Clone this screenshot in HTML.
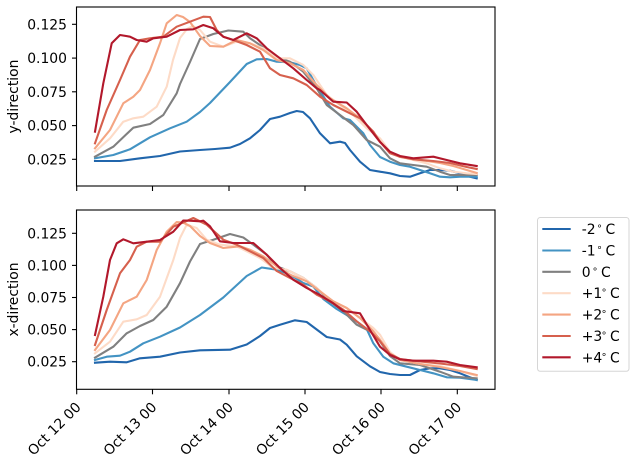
<!DOCTYPE html>
<html><head><meta charset="utf-8"><style>
html,body{margin:0;padding:0;background:#fff;}
svg{display:block;}
text{font-family:"DejaVu Sans","Liberation Sans",sans-serif;font-size:13.9px;fill:#000;}
.s{fill:none;stroke-width:2.1;stroke-linejoin:round;stroke-linecap:square;}
</style></head><body>
<svg width="637" height="461" viewBox="0 0 637 461" xmlns="http://www.w3.org/2000/svg">
<rect width="637" height="461" fill="#fff"/>
<defs>
<clipPath id="c1"><rect x="76.5" y="7" width="418.5" height="179"/></clipPath>
<clipPath id="c2"><rect x="76.5" y="210" width="418.5" height="179.3"/></clipPath>
</defs>

<!-- TOP PLOT -->
<g clip-path="url(#c1)">
<polyline class="s" stroke="#2166ac" points="95,161 120,161 140,158.3 160,156 180,151.5 200,150 215,149 230,147.7 240,144 250,138.3 260,130 270,119 280,116.7 290,113 296.7,111 303,112 310,118.3 320,133.3 330,143.3 340,141.7 345,143 350,150 360,161.7 370,170 380,171.7 390,173.3 400,176 410,176.7 420,173.3 430,170 440,170 450,170.7 460,173.3 470,176.7 476.7,178.3"/>
<polyline class="s" stroke="#4393c3" points="95,158.3 113.3,155 130,149.3 150,137.3 170,128.3 186.7,121.7 200,112 210,103 230,82 246.7,64 256.7,59.3 266.7,59 276.7,61.7 290,62.3 300,65 306.7,68.3 316.7,86 330,106.7 343.3,118.3 350,120 363.3,133.3 370,145 380,157 390,161.7 400,165 410,166.7 420,170 430,173.3 440,176.7 450,177.3 460,176.7 476.7,176.7"/>
<polyline class="s" stroke="#808080" points="95,156.7 113.3,146.7 133.3,127.7 150,124 163.3,115 176.7,93.3 180,84 190,62 200,39 213.3,34 228.3,30.5 243.3,31.7 250,38.3 260,45 270,53.3 280,58.3 290,61.7 303.3,71.7 316.7,88.3 326.7,105 340,115 353.3,125 366.7,140 380,146.7 390,158.3 400,163.3 413.3,165 426.7,166.7 440,171.7 450,175 460,175 476.7,175"/>
<polyline class="s" stroke="#fddbc7" points="95,151.7 110,138.3 123.3,121.7 133.3,118.3 143.3,116.7 156.7,106.7 166.7,86.7 173,60 180,38 187,29 193,26 200,30 210,41.7 223.3,46.7 236.7,41.7 250,43.3 263.3,48.3 276.7,58.3 290,58.3 303.3,65 313.3,75 326.7,95 340,105 353.3,115 366.7,128.3 380,138.3 390,151.7 400,156.7 413.3,160 426.7,163.3 440,168.3 453.3,171.7 466.7,173.3 476.7,174"/>
<polyline class="s" stroke="#f4a582" points="95,148.3 110,130 123.3,103.3 133.3,96.7 140,90 150,70 160,43.3 166.7,23.3 176.7,15 183,17 190,22 200,36 210,46 223.3,46.7 236.7,40 250,43.3 263.3,50 276.7,60 290,63.3 303.3,70 316.7,85 330,98.3 346.7,108.3 360,118.3 373.3,131.7 380,141.7 390,152 400,157 413.3,159 426.7,161 440,163 453.3,166 466.7,170 476.7,173"/>
<polyline class="s" stroke="#d6604d" points="95,143.3 106.7,110 120,80 130,56.7 140,40 150,38.3 163.3,36.7 176.7,26.7 190,21.7 203.3,16.7 210,17 216.7,30 223.3,36.7 233.3,40 246.7,45 260,51.7 270,68.3 280,75 293.3,78.3 306.7,85 320,96.7 333.3,105 346.7,111.7 360,118.3 373.3,131.7 380,141.7 390,153.3 400,156.7 413.3,159.3 433.3,161 450,163 466.7,167 476.7,169"/>
<polyline class="s" stroke="#b2182b" points="95,131.7 103.3,83.3 111.7,43.3 120,35 130,36.7 136.7,40 146.7,41.7 153.3,38.3 166.7,36.7 180,30 193.3,29.3 203.3,25 213.3,28.3 223.3,36.7 233.3,40 246.7,33.3 256.7,38.3 266.7,48.3 280,58.3 293.3,68.3 306.7,80 316.7,88.3 320,90 333.3,101.7 346.7,102.5 356.7,111.7 366.7,125 380,142 390,151.7 400,156 413.3,158.3 433.3,156.7 446.7,160 460,163.3 476.7,166"/>
</g>
<rect x="76.5" y="7" width="418.5" height="179" fill="none" stroke="#000" stroke-width="1.1"/>
<g stroke="#000" stroke-width="1.1">
<line x1="72" y1="24.3" x2="76.5" y2="24.3"/>
<line x1="72" y1="58.1" x2="76.5" y2="58.1"/>
<line x1="72" y1="91.8" x2="76.5" y2="91.8"/>
<line x1="72" y1="125.6" x2="76.5" y2="125.6"/>
<line x1="72" y1="159.3" x2="76.5" y2="159.3"/>
<line x1="76.7" y1="186" x2="76.7" y2="191"/>
<line x1="152.5" y1="186" x2="152.5" y2="191"/>
<line x1="229" y1="186" x2="229" y2="191"/>
<line x1="305" y1="186" x2="305" y2="191"/>
<line x1="381" y1="186" x2="381" y2="191"/>
<line x1="457.3" y1="186" x2="457.3" y2="191"/>
</g>
<g text-anchor="end">
<text x="67" y="29.3">0.125</text>
<text x="67" y="63.1">0.100</text>
<text x="67" y="96.8">0.075</text>
<text x="67" y="130.6">0.050</text>
<text x="67" y="164.3">0.025</text>
</g>
<text transform="translate(18,96.5) rotate(-90)" text-anchor="middle">y-direction</text>

<!-- BOTTOM PLOT -->
<g clip-path="url(#c2)">
<polyline class="s" stroke="#2166ac" points="95,362.7 110,361.7 126.7,362.3 140,358.3 160,356.7 180,352.5 200,350.3 230,349.7 246.7,344.5 260,336 270,328 280,324.7 295,320.3 306.7,322 316.7,329.5 326.7,337 340,339.5 346.7,344.7 356.7,356.3 370,366.3 380,372 390,374 400,375 410,375 420,370 430,368.3 440,368.3 450,370 460,373.3 476.7,380"/>
<polyline class="s" stroke="#4393c3" points="95,360 106.7,356.7 120,355.7 130,351.7 143.3,343.3 160,336.7 180,327.5 200,315 223.3,297.5 246.7,276 261.7,267.5 276.7,269.7 290,274.7 303.3,283 313.3,286.5 323.3,299 336.7,309 353.3,319 366.7,329 373.3,343.3 383.3,356.7 393.3,363.3 406.7,366.7 420,370 433.3,373.3 446.7,377.3 460,377.7 476.7,380"/>
<polyline class="s" stroke="#808080" points="95,357.7 113.3,346.7 126.7,333.3 140,326 153.3,320 166.7,306.7 180,283.2 190,261.5 200,244 213.3,239.8 230,234 243.3,237.5 253.3,244.7 266.7,254.7 276.7,266.3 290,271.3 303.3,278 316.7,288 330,301.3 343.3,311.3 356.7,324.7 370,331.3 380,341.3 390,356 400,363.3 420,365 440,371.7 453.3,376.7 476.7,378.3"/>
<polyline class="s" stroke="#fddbc7" points="95,353.3 110,341.7 123.3,321.7 136.7,319.3 146.7,315 160,296.7 173.3,260 180,238 186.7,224.7 196.7,228 206.7,239.7 220,244.7 236.7,246.3 246.7,251.3 260,258 273.3,268 286.7,269.7 303.3,278 316.7,288 330,299.7 346.7,308 360,318 373.3,328 380,334.7 390,352 400,360 420,364 440,366 460,371 476.7,376"/>
<polyline class="s" stroke="#f4a582" points="95,350 110,330 123.3,303.3 136.7,296.7 146.7,280 156.7,250 166.7,231.7 176.7,222 183,222.5 190,226 200,236 210,243 223.3,248 240,246.3 250,249.7 263.3,256.3 276.7,266.3 290,274.7 306.7,281.3 320,291.3 333.3,301.3 346.7,308 360,318 373.3,331.3 380,339.7 390,354 400,360 420,364 440,367 460,371 476.7,375"/>
<polyline class="s" stroke="#d6604d" points="95,345 106.7,310 120,273.3 130,260 136.7,246.7 146.7,241.7 160,241.7 173.3,226.7 186.7,221 193.3,218 206.7,224.7 223.3,239.7 236.7,244.7 250,251.3 263.3,258 276.7,271 290,278 303.3,284.7 316.7,294.7 330,301.3 343.3,309.7 356.7,321.3 370,331.3 380,341.3 390,354 400,359 420,361.5 440,363.5 460,366 476.7,369"/>
<polyline class="s" stroke="#b2182b" points="95,335 103.3,296.7 110,260 116.7,243.3 123.3,239.3 133.3,243.3 146.7,241.7 160,240 173.3,231.7 183.3,220.5 190,220.7 200,221.3 203.3,220.7 210,226.3 220,241.3 233.3,243 253.3,243 266.7,254.7 280,268 293.3,279.7 306.7,288 320,295 333.3,303.3 343.3,311 360,313.3 370,330 380,346.7 390,355 400,359.3 413.3,360.7 433.3,360.7 446.7,361.7 460,365 476.7,367.3"/>
</g>
<rect x="76.5" y="210" width="418.5" height="179.3" fill="none" stroke="#000" stroke-width="1.1"/>
<g stroke="#000" stroke-width="1.1">
<line x1="72" y1="233.3" x2="76.5" y2="233.3"/>
<line x1="72" y1="265.4" x2="76.5" y2="265.4"/>
<line x1="72" y1="297.5" x2="76.5" y2="297.5"/>
<line x1="72" y1="329.6" x2="76.5" y2="329.6"/>
<line x1="72" y1="361.7" x2="76.5" y2="361.7"/>
<line x1="76.7" y1="389.3" x2="76.7" y2="394.3"/>
<line x1="152.5" y1="389.3" x2="152.5" y2="394.3"/>
<line x1="229" y1="389.3" x2="229" y2="394.3"/>
<line x1="305" y1="389.3" x2="305" y2="394.3"/>
<line x1="381" y1="389.3" x2="381" y2="394.3"/>
<line x1="457.3" y1="389.3" x2="457.3" y2="394.3"/>
</g>
<g text-anchor="end">
<text x="67" y="238.3">0.125</text>
<text x="67" y="270.4">0.100</text>
<text x="67" y="302.5">0.075</text>
<text x="67" y="334.6">0.050</text>
<text x="67" y="366.7">0.025</text>
</g>
<text transform="translate(18,299.5) rotate(-90)" text-anchor="middle">x-direction</text>

<g text-anchor="end">
<text transform="translate(81.7,408) rotate(-45)">Oct 12 00</text>
<text transform="translate(157.5,408) rotate(-45)">Oct 13 00</text>
<text transform="translate(234,408) rotate(-45)">Oct 14 00</text>
<text transform="translate(310,408) rotate(-45)">Oct 15 00</text>
<text transform="translate(386,408) rotate(-45)">Oct 16 00</text>
<text transform="translate(462.3,408) rotate(-45)">Oct 17 00</text>
</g>

<!-- LEGEND -->
<rect x="537.5" y="217.5" width="91.5" height="153.8" rx="2.8" ry="2.8" fill="#fff" stroke="#d6d6d6" stroke-width="1"/>
<g stroke-width="2.1">
<line x1="542.3" y1="229" x2="570.7" y2="229" stroke="#2166ac"/>
<line x1="542.3" y1="250.5" x2="570.7" y2="250.5" stroke="#4393c3"/>
<line x1="542.3" y1="271.8" x2="570.7" y2="271.8" stroke="#808080"/>
<line x1="542.3" y1="293.2" x2="570.7" y2="293.2" stroke="#fddbc7"/>
<line x1="542.3" y1="314.6" x2="570.7" y2="314.6" stroke="#f4a582"/>
<line x1="542.3" y1="336" x2="570.7" y2="336" stroke="#d6604d"/>
<line x1="542.3" y1="357.3" x2="570.7" y2="357.3" stroke="#b2182b"/>
</g>
<g>
<text x="581.7" y="234">-2</text><text x="596.5" y="229" style="font-size:9.7px">∘</text><text x="605.5" y="234">C</text>
<text x="581.7" y="255.5">-1</text><text x="596.5" y="250.5" style="font-size:9.7px">∘</text><text x="605.5" y="255.5">C</text>
<text x="581.7" y="276.8">0</text><text x="592" y="271.8" style="font-size:9.7px">∘</text><text x="601" y="276.8">C</text>
<text x="581.7" y="298.2">+1</text><text x="601" y="293.2" style="font-size:9.7px">∘</text><text x="610" y="298.2">C</text>
<text x="581.7" y="319.6">+2</text><text x="601" y="314.6" style="font-size:9.7px">∘</text><text x="610" y="319.6">C</text>
<text x="581.7" y="341">+3</text><text x="601" y="336" style="font-size:9.7px">∘</text><text x="610" y="341">C</text>
<text x="581.7" y="362.3">+4</text><text x="601" y="357.3" style="font-size:9.7px">∘</text><text x="610" y="362.3">C</text>
</g>
</svg>
</body></html>
